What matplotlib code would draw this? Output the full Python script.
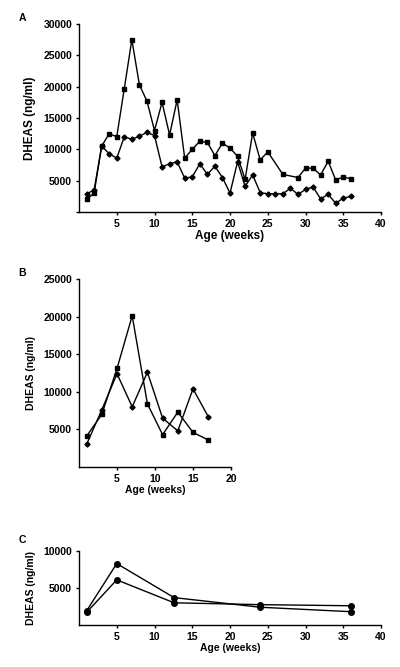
import numpy as np
import matplotlib
matplotlib.use("Agg")
import matplotlib.pyplot as plt

plt.rcParams['font.family'] = ['Liberation Sans', 'DejaVu Sans']
plt.rcParams['font.weight'] = 'bold'

# Panel A: weekly values, two animals
a_weeks_sq = [1, 2, 3, 4, 5, 6, 7, 8, 9, 10, 11, 12, 13, 14, 15, 16, 17, 18, 19, 20,
              21, 22, 23, 24, 25, 27, 29, 30, 31, 32, 33, 34, 35, 36]
a_vals_sq = [2000, 3000, 10500, 12500, 12000, 19700, 27500, 20300, 17700, 13000,
             17500, 12300, 17900, 8600, 10000, 11300, 11100, 9000, 11000, 10200,
             8900, 5200, 12600, 8300, 9600, 6000, 5500, 7000, 7000, 5900,
             8100, 5100, 5600, 5300]
a_weeks_dm = list(range(1, 37))
a_vals_dm = [2900, 3500, 10500, 9300, 8600, 12000, 11600, 12100, 12700, 12200,
             7200, 7700, 8000, 5400, 5600, 7700, 6000, 7300, 5500, 3000,
             8000, 4100, 5900, 3100, 2900, 2900, 2900, 3800, 2800, 3600,
             4000, 2100, 2800, 1400, 2200, 2500]

# Panel B
b_weeks = [1, 3, 5, 7, 9, 11, 13, 15, 17]
b_vals_sq = [4100, 7000, 13100, 20100, 8400, 4300, 7300, 4600, 3600]
b_vals_dm = [3000, 7600, 12400, 8000, 12600, 6500, 4800, 10400, 6700]

# Panel C
c_weeks = [1, 5, 12.6, 24, 36]
c_vals_1 = [1900, 8300, 3700, 2400, 1800]
c_vals_2 = [1700, 6100, 3000, 2750, 2600]

W, H = 400, 667
fig = plt.figure(figsize=(4, 6.67), dpi=100)


def make_ax(left, top, width, height):
    return fig.add_axes([left / W, 1 - (top + height) / H, width / W, height / H])


def style(ax, fs):
    for s in ['top', 'right']:
        ax.spines[s].set_visible(False)
    for s in ['left', 'bottom']:
        ax.spines[s].set_linewidth(1.0)
    ax.tick_params(direction='out', length=2.5, width=1.0, labelsize=fs, pad=2.5)
    for lab in ax.get_xticklabels() + ax.get_yticklabels():
        lab.set_fontweight('bold')


lw = 1.0
# ---- A ----
axA = make_ax(79, 24, 302, 188)
axA.plot(a_weeks_sq, a_vals_sq, 'k-', marker='s', ms=3.2, lw=lw)
axA.plot(a_weeks_dm, a_vals_dm, 'k-', marker='D', ms=2.6, lw=lw)
axA.set_xlim(0, 40)
axA.set_ylim(0, 30000)
axA.set_xticks(range(5, 45, 5))
axA.set_yticks(range(0, 35000, 5000))
axA.set_yticklabels([''] + [str(v) for v in range(5000, 35000, 5000)])
style(axA, 7.5)
axA.set_xlabel('Age (weeks)', fontsize=8.5, fontweight='bold', labelpad=1)
axA.set_ylabel('DHEAS (ng/ml)', fontsize=8.5, fontweight='bold', labelpad=5)
fig.text(22 / W, 1 - 18 / H, 'A', fontsize=7.5, fontweight='bold', ha='center', va='center')

# ---- B ----
axB = make_ax(79, 279, 152, 188)
axB.plot(b_weeks, b_vals_sq, 'k-', marker='s', ms=3.2, lw=lw)
axB.plot(b_weeks, b_vals_dm, 'k-', marker='D', ms=2.6, lw=lw)
axB.set_xlim(0, 20)
axB.set_ylim(0, 25000)
axB.set_xticks(range(5, 25, 5))
axB.set_yticks(range(5000, 30000, 5000))
style(axB, 7.5)
axB.set_xlabel('Age (weeks)', fontsize=7.5, fontweight='bold', labelpad=1)
axB.set_ylabel('DHEAS (ng/ml)', fontsize=7.5, fontweight='bold', labelpad=5)
fig.text(22 / W, 1 - 273 / H, 'B', fontsize=7.5, fontweight='bold', ha='center', va='center')

# ---- C ----
axC = make_ax(79, 551, 302, 74)
axC.plot(c_weeks, c_vals_1, 'k-', marker='o', ms=4, lw=lw)
axC.plot(c_weeks, c_vals_2, 'k-', marker='o', ms=4, lw=lw)
axC.set_xlim(0, 40)
axC.set_ylim(0, 10000)
axC.set_xticks(range(5, 45, 5))
axC.set_yticks([5000, 10000])
style(axC, 7.5)
axC.set_xlabel('Age (weeks)', fontsize=7.5, fontweight='bold', labelpad=1)
axC.set_ylabel('DHEAS (ng/ml)', fontsize=7.5, fontweight='bold', labelpad=5)
fig.text(22 / W, 1 - 540 / H, 'C', fontsize=7.5, fontweight='bold', ha='center', va='center')

fig.savefig('out.png', dpi=100)
